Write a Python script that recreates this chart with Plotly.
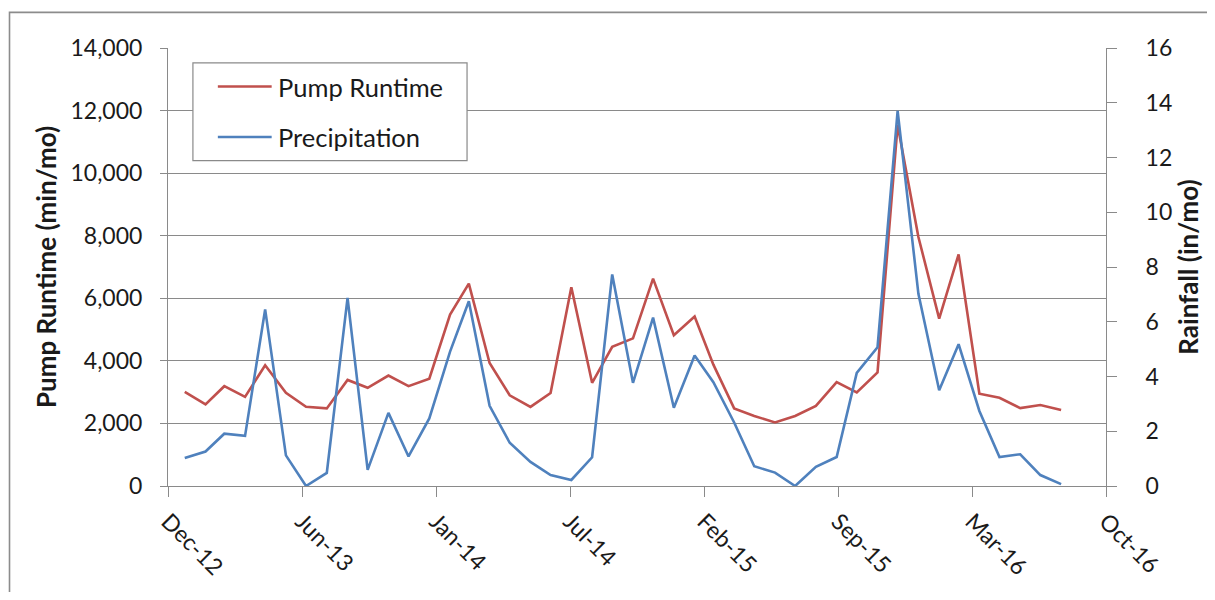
import plotly.graph_objects as go

# monthly series, Jan 2013 .. Aug 2016
MONTHS = [
    "2013-01", "2013-02", "2013-03", "2013-04", "2013-05", "2013-06",
    "2013-07", "2013-08", "2013-09", "2013-10", "2013-11", "2013-12",
    "2014-01", "2014-02", "2014-03", "2014-04", "2014-05", "2014-06",
    "2014-07", "2014-08", "2014-09", "2014-10", "2014-11", "2014-12",
    "2015-01", "2015-02", "2015-03", "2015-04", "2015-05", "2015-06",
    "2015-07", "2015-08", "2015-09", "2015-10", "2015-11", "2015-12",
    "2016-01", "2016-02", "2016-03", "2016-04", "2016-05", "2016-06",
    "2016-07", "2016-08",
]

PUMP_RUNTIME = [
    3010, 2610, 3190, 2850, 3860, 2980, 2530, 2480, 3390, 3140, 3530, 3190,
    3430, 5480, 6470, 3930, 2900, 2530, 2970, 6350, 3300, 4450, 4720, 6630,
    4820, 5420, 3880, 2480, 2240, 2030, 2240, 2560, 3320, 2990, 3630, 11540,
    7960, 5350, 7400, 2950, 2820, 2490, 2590, 2430,
]

PRECIPITATION = [
    1.02, 1.26, 1.91, 1.83, 6.45, 1.12, 0.00, 0.48, 6.87, 0.59, 2.67, 1.08,
    2.47, 4.91, 6.75, 2.93, 1.58, 0.88, 0.40, 0.22, 1.05, 7.73, 3.77, 6.15,
    2.86, 4.77, 3.79, 2.32, 0.72, 0.49, 0.00, 0.70, 1.06, 4.13, 5.07, 13.70,
    7.02, 3.50, 5.18, 2.74, 1.06, 1.16, 0.40, 0.07,
]

# excel date axis: major unit of 200 days from 7 Dec 2012
TICK_DATES = [
    "2012-12-07", "2013-06-25", "2014-01-11", "2014-07-30",
    "2015-02-15", "2015-09-03", "2016-03-21", "2016-10-07",
]
TICK_LABELS = ["Dec-12", "Jun-13", "Jan-14", "Jul-14", "Feb-15", "Sep-15", "Mar-16", "Oct-16"]

SERIES_NAMES = ["Pump Runtime", "Precipitation"]
SERIES_COLORS = ["#C0504D", "#4F81BD"]

# the page body has an 8px margin, so the figure is shrunk and shifted
# to land everything at the screenshot's pixel positions
PAGE_PAD = 8
W, H = 1215 - 2 * PAGE_PAD, 600 - 2 * PAGE_PAD
PLOT_L, PLOT_R, PLOT_T, PLOT_B = 168, 1109, 48, 491  # in screenshot pixels
FONT = "Lato, 'Open Sans', sans-serif"
TEXT = "#1a1a1a"
GRID = "#8a8a8a"


def px_x(x):
    return (x - PLOT_L) / (PLOT_R - PLOT_L)


def px_y(y):
    return (PLOT_B - y) / (PLOT_B - PLOT_T)


fig = go.Figure()
fig.add_trace(
    go.Scatter(
        x=MONTHS, y=PUMP_RUNTIME, mode="lines", name=SERIES_NAMES[0],
        line={"color": SERIES_COLORS[0], "width": 2.6}, yaxis="y", showlegend=False,
    )
)
fig.add_trace(
    go.Scatter(
        x=MONTHS, y=PRECIPITATION, mode="lines", name=SERIES_NAMES[1],
        line={"color": SERIES_COLORS[1], "width": 2.6}, yaxis="y2", showlegend=False,
    )
)

# hand-drawn legend box so the sample lines match excel's length
shapes = [
    dict(type="rect", xref="paper", yref="paper",
         x0=px_x(193), x1=px_x(468), y0=px_y(63), y1=px_y(162),
         line={"color": GRID, "width": 1.2}, fillcolor="white", layer="above"),
    # outer chart frame, running off the right and bottom of the shot
    dict(type="rect", xref="paper", yref="paper",
         x0=px_x(9), x1=px_x(1240), y0=px_y(625), y1=px_y(12),
         line={"color": "#8c8c8c", "width": 1.6}, layer="above"),
]
annotations = []
for row, (name, color) in enumerate(zip(SERIES_NAMES, SERIES_COLORS)):
    ly = 87 + row * 51
    shapes.append(
        dict(type="line", xref="paper", yref="paper",
             x0=px_x(218), x1=px_x(272), y0=px_y(ly), y1=px_y(ly),
             line={"color": color, "width": 2.6}, layer="above")
    )
    annotations.append(
        dict(xref="paper", yref="paper", x=px_x(276), y=px_y(ly), text=name,
             showarrow=False, xanchor="left", yanchor="middle",
             font={"size": 25.5, "color": TEXT, "family": FONT})
    )

fig.update_layout(
    width=W,
    height=H,
    autosize=False,
    margin={
        "l": PLOT_L - PAGE_PAD,
        "r": W - (PLOT_R - PAGE_PAD),
        "t": PLOT_T - PAGE_PAD,
        "b": H - (PLOT_B - PAGE_PAD),
    },
    paper_bgcolor="white",
    plot_bgcolor="white",
    font={"family": FONT, "color": TEXT, "size": 23},
    shapes=shapes,
    annotations=annotations,
    xaxis={
        "type": "date",
        "range": [TICK_DATES[0], TICK_DATES[-1]],
        "tickmode": "array",
        "tickvals": TICK_DATES,
        "ticktext": TICK_LABELS,
        "tickangle": 45,
        "ticks": "outside",
        "ticklen": 10,
        "tickcolor": GRID,
        "showline": True,
        "linecolor": GRID,
        "showgrid": False,
        "zeroline": False,
        "ticklabelstandoff": 2,
        "tickfont": {"size": 23},
    },
    yaxis={
        "range": [0, 14000],
        "dtick": 2000,
        "tickformat": ",d",
        "ticks": "outside",
        "ticklen": 7,
        "tickcolor": GRID,
        "showline": True,
        "linecolor": GRID,
        "showgrid": True,
        "gridcolor": GRID,
        "gridwidth": 1,
        "zeroline": False,
        "ticklabelstandoff": 13,
        "title": {"text": "<b>Pump Runtime (min/mo)</b>", "font": {"size": 26}, "standoff": 6},
    },
    yaxis2={
        "range": [0, 16],
        "dtick": 2,
        "overlaying": "y",
        "side": "right",
        "ticks": "outside",
        "ticklen": 10,
        "tickcolor": GRID,
        "showline": True,
        "linecolor": GRID,
        "showgrid": False,
        "zeroline": False,
        "ticklabelstandoff": 24,
        "title": {"text": "<b>Rainfall (in/mo)</b>", "font": {"size": 26}, "standoff": 5},
    },
)

fig.write_html("out.html")
